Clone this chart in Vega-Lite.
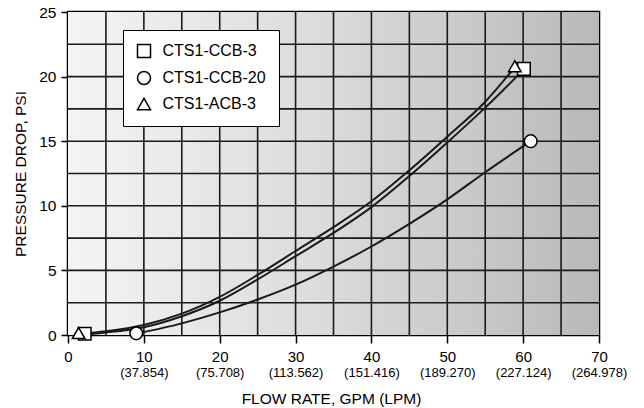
{
  "$schema": "https://vega.github.io/schema/vega-lite/v6.json",
  "autosize": {"type": "none"},
  "padding": {"left": 68, "top": 12, "right": 45, "bottom": 73},
  "width": 531,
  "height": 323,
  "background": "white",
  "config": {
    "view": {"stroke": "black", "strokeWidth": 2.5, "fill": null},
    "axis": {
      "labelColor": "black", "labelFont": "Liberation Sans", "titleFont": "Liberation Sans",
      "titleColor": "black", "titleFontWeight": "normal", "domain": false, "grid": false,
      "tickColor": "black", "tickWidth": 1.5
    }
  },
  "datasets": {
    "curves": [
      {"series": "CTS1-CCB-3", "x": 2, "y": 0.05},
      {"series": "CTS1-CCB-3", "x": 5, "y": 0.2},
      {"series": "CTS1-CCB-3", "x": 10, "y": 0.6},
      {"series": "CTS1-CCB-3", "x": 15, "y": 1.45},
      {"series": "CTS1-CCB-3", "x": 20, "y": 2.65},
      {"series": "CTS1-CCB-3", "x": 25, "y": 4.3},
      {"series": "CTS1-CCB-3", "x": 30, "y": 6.1},
      {"series": "CTS1-CCB-3", "x": 35, "y": 7.9},
      {"series": "CTS1-CCB-3", "x": 40, "y": 9.9},
      {"series": "CTS1-CCB-3", "x": 45, "y": 12.3},
      {"series": "CTS1-CCB-3", "x": 50, "y": 14.9},
      {"series": "CTS1-CCB-3", "x": 55, "y": 17.6},
      {"series": "CTS1-CCB-3", "x": 60, "y": 20.5},
      {"series": "CTS1-ACB-3", "x": 1.5, "y": 0.1},
      {"series": "CTS1-ACB-3", "x": 5, "y": 0.3},
      {"series": "CTS1-ACB-3", "x": 10, "y": 0.78},
      {"series": "CTS1-ACB-3", "x": 15, "y": 1.65},
      {"series": "CTS1-ACB-3", "x": 20, "y": 2.95},
      {"series": "CTS1-ACB-3", "x": 25, "y": 4.65},
      {"series": "CTS1-ACB-3", "x": 30, "y": 6.5},
      {"series": "CTS1-ACB-3", "x": 35, "y": 8.35},
      {"series": "CTS1-ACB-3", "x": 40, "y": 10.35},
      {"series": "CTS1-ACB-3", "x": 45, "y": 12.75},
      {"series": "CTS1-ACB-3", "x": 50, "y": 15.35},
      {"series": "CTS1-ACB-3", "x": 55, "y": 18.05},
      {"series": "CTS1-ACB-3", "x": 59, "y": 20.8},
      {"series": "CTS1-CCB-20", "x": 9, "y": 0.1},
      {"series": "CTS1-CCB-20", "x": 15, "y": 0.9},
      {"series": "CTS1-CCB-20", "x": 20, "y": 1.75},
      {"series": "CTS1-CCB-20", "x": 25, "y": 2.75},
      {"series": "CTS1-CCB-20", "x": 30, "y": 3.9},
      {"series": "CTS1-CCB-20", "x": 35, "y": 5.3},
      {"series": "CTS1-CCB-20", "x": 40, "y": 6.85},
      {"series": "CTS1-CCB-20", "x": 45, "y": 8.6},
      {"series": "CTS1-CCB-20", "x": 50, "y": 10.5},
      {"series": "CTS1-CCB-20", "x": 55, "y": 12.6},
      {"series": "CTS1-CCB-20", "x": 61, "y": 15}
    ],
    "markers": [
      {"series": "CTS1-CCB-3", "x": 2.2, "y": 0.1},
      {"series": "CTS1-CCB-3", "x": 60.1, "y": 20.6},
      {"series": "CTS1-CCB-20", "x": 9, "y": 0.13},
      {"series": "CTS1-CCB-20", "x": 61, "y": 15},
      {"series": "CTS1-ACB-3", "x": 1.4, "y": 0.15},
      {"series": "CTS1-ACB-3", "x": 58.9, "y": 20.8}
    ],
    "gridX": [
      {"gx": 5}, {"gx": 10}, {"gx": 15}, {"gx": 20}, {"gx": 25}, {"gx": 30}, {"gx": 35},
      {"gx": 40}, {"gx": 45}, {"gx": 50}, {"gx": 55}, {"gx": 60}, {"gx": 65}
    ],
    "gridY": [
      {"gy": 2.5}, {"gy": 5}, {"gy": 7.5}, {"gy": 10}, {"gy": 12.5},
      {"gy": 15}, {"gy": 17.5}, {"gy": 20}, {"gy": 22.5}
    ]
  },
  "layer": [
    {
      "data": {"values": [{}]},
      "mark": {
        "type": "rect",
        "fill": {"gradient": "linear", "x1": 0, "y1": 0, "x2": 1, "y2": 0,
          "stops": [{"offset": 0, "color": "#f4f4f5"}, {"offset": 0.5, "color": "#d9dadb"}, {"offset": 1, "color": "#b8b9bb"}]}
      },
      "encoding": {
        "x": {"datum": 0, "type": "quantitative", "scale": {"domain": [0, 70], "nice": false}, "axis": null},
        "x2": {"datum": 70},
        "y": {"datum": 0, "type": "quantitative", "scale": {"domain": [0, 25], "nice": false}, "axis": null},
        "y2": {"datum": 25}
      }
    },
    {
      "data": {"name": "gridX"},
      "mark": {"type": "rule", "color": "#1a1a1a", "strokeWidth": 1.6},
      "encoding": {
        "x": {"field": "gx", "type": "quantitative", "scale": {"domain": [0, 70], "nice": false}, "axis": null}
      }
    },
    {
      "data": {"name": "gridY"},
      "mark": {"type": "rule", "color": "#1a1a1a", "strokeWidth": 1.6},
      "encoding": {
        "y": {"field": "gy", "type": "quantitative", "scale": {"domain": [0, 25], "nice": false}, "axis": null}
      }
    },
    {
      "data": {"name": "curves"},
      "mark": {"type": "line", "interpolate": "monotone", "color": "#1a1a1a", "strokeWidth": 2},
      "encoding": {
        "x": {
          "field": "x", "type": "quantitative",
          "scale": {"domain": [0, 70], "nice": false},
          "axis": {
            "orient": "bottom",
            "values": [0, 10, 20, 30, 40, 50, 60, 70],
            "grid": false,
            "tickSize": 8,
            "labelFontSize": 15,
            "labelBaseline": "alphabetic",
            "labelPadding": 18,
            "labelFlush": false,
            "labelOverlap": false,
            "title": "FLOW RATE, GPM (LPM)",
            "titleFontSize": 15.5,
            "titleX": 263,
            "titleY": 68.5,
            "titleAlign": "center",
            "titleBaseline": "alphabetic"
          }
        },
        "y": {
          "field": "y", "type": "quantitative",
          "scale": {"domain": [0, 25], "nice": false},
          "axis": {
            "orient": "left",
            "values": [0, 5, 10, 15, 20, 25],
            "grid": false,
            "tickSize": 7,
            "labelPadding": 5,
            "labelFontSize": 15.5,
            "labelOverlap": false,
            "labelFlush": false,
            "title": "PRESSURE DROP, PSI",
            "titleFontSize": 15.5,
            "titleAngle": 270,
            "titleX": -43,
            "titleY": 161.5,
            "titleAlign": "center",
            "titleBaseline": "alphabetic"
          }
        },
        "detail": {"field": "series", "type": "nominal"}
      }
    },
    {
      "data": {"name": "markers"},
      "mark": {"type": "point", "filled": false, "color": "black", "fill": "white", "fillOpacity": 1, "strokeWidth": 1.5, "size": 160, "opacity": 1},
      "encoding": {
        "x": {
          "field": "x", "type": "quantitative",
          "scale": {"domain": [0, 70], "nice": false},
          "axis": {
            "orient": "bottom",
            "values": [10, 20, 30, 40, 50, 60, 70],
            "labelExpr": "'(' + format(datum.value * 3.7854, '.3f') + ')'",
            "grid": false,
            "ticks": false,
            "tickSize": 0,
            "labelFontSize": 13,
            "labelBaseline": "alphabetic",
            "labelPadding": 41.5,
            "labelFlush": false,
            "labelOverlap": false,
            "title": null
          }
        },
        "y": {"field": "y", "type": "quantitative", "scale": {"domain": [0, 25], "nice": false}, "axis": null},
        "shape": {
          "field": "series", "type": "nominal",
          "scale": {"domain": ["CTS1-CCB-3", "CTS1-CCB-20", "CTS1-ACB-3"], "range": ["square", "circle", "triangle-up"]},
          "legend": {
            "title": null,
            "orient": "none",
            "legendX": 55,
            "legendY": 18,
            "padding": 13,
            "rowPadding": 7,
            "symbolSize": 169,
            "symbolStrokeWidth": 1.5,
            "labelFontSize": 16,
            "labelFont": "Liberation Sans",
            "labelColor": "black",
            "labelOffset": 10.5,
            "fillColor": "white",
            "strokeColor": "black"
          }
        }
      }
    }
  ],
  "resolve": {"axis": {"x": "independent", "y": "independent"}}
}
